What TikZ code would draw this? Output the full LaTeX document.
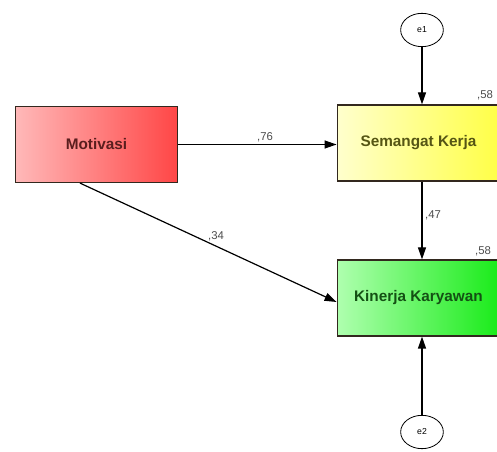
\documentclass[tikz,border=0pt]{standalone}
\usepackage{fontspec}
\setmainfont{Liberation Sans}
\usetikzlibrary{arrows.meta}
\usetikzlibrary{calc}
\usetikzlibrary{shapes.geometric}

\begin{document}
\begin{tikzpicture}[x=0.75pt,y=0.75pt,yscale=-1,xscale=1]
\tikzset{
  var/.style={draw={rgb,255:red,50;green,40;blue,30}, line width=0.9pt, minimum width=122pt, minimum height=57pt, inner sep=0pt, font=\fontsize{11.5}{13}\selectfont\bfseries},
  err/.style={draw, ellipse, line width=0.6pt, minimum width=32pt, minimum height=25pt, inner sep=0pt, font=\fontsize{6.5}{7}\selectfont},
  arr/.style={line width=0.9pt, -{Triangle[length=9pt,width=6pt]}},
  coef/.style={font=\fontsize{8.5}{10}\selectfont, text=black!70}
}
\useasboundingbox (0,0) rectangle (497,452);

%Shape: Rectangle [Motivasi]
\draw (96.5,144.5) node [var, left color={rgb,255:red,255;green,185;blue,185}, right color={rgb,255:red,255;green,70;blue,70}, text={rgb,255:red,90;green,30;blue,30}] (mot) {Motivasi};
%Shape: Rectangle [Semangat Kerja]
\draw (418.5,143) node [var, left color={rgb,255:red,255;green,255;blue,205}, right color={rgb,255:red,255;green,255;blue,70}, text={rgb,255:red,85;green,85;blue,20}] (sem) {Semangat Kerja};
%Shape: Rectangle [Kinerja Karyawan]
\draw (418.5,298) node [var, left color={rgb,255:red,175;green,255;blue,175}, right color={rgb,255:red,25;green,235;blue,25}, text={rgb,255:red,20;green,80;blue,20}] (kin) {Kinerja Karyawan};

%Shape: Ellipse [e1]
\draw (422,30) node [err] (e1) {e1};
%Shape: Ellipse [e2]
\draw (422,432) node [err] (e2) {e2};

%Straight Lines
\draw [arr] (mot.east) -- (mot.east -| sem.west);
%Straight Lines
\draw [arr] ($(mot.south)+(-16.5,0)$) -- ($(kin.west)+(0,4)$);
%Straight Lines
\draw [arr] (e1.south) -- (e1.south |- sem.north);
%Straight Lines
\draw [arr] (e1.south |- sem.south) -- (e1.south |- kin.north);
%Straight Lines
\draw [arr] (e2.north) -- (e2.north |- kin.south);

% Text Node
\draw (265,137) node [coef] (c76) {,76};
% Text Node
\draw (216,236) node [coef] (c34) {,34};
% Text Node
\draw (433,215) node [coef] (c47) {,47};
% Text Node
\draw (485,95) node [coef] (r1) {,58};
% Text Node
\draw (483,251) node [coef] (r2) {,58};

\end{tikzpicture}
\end{document}
